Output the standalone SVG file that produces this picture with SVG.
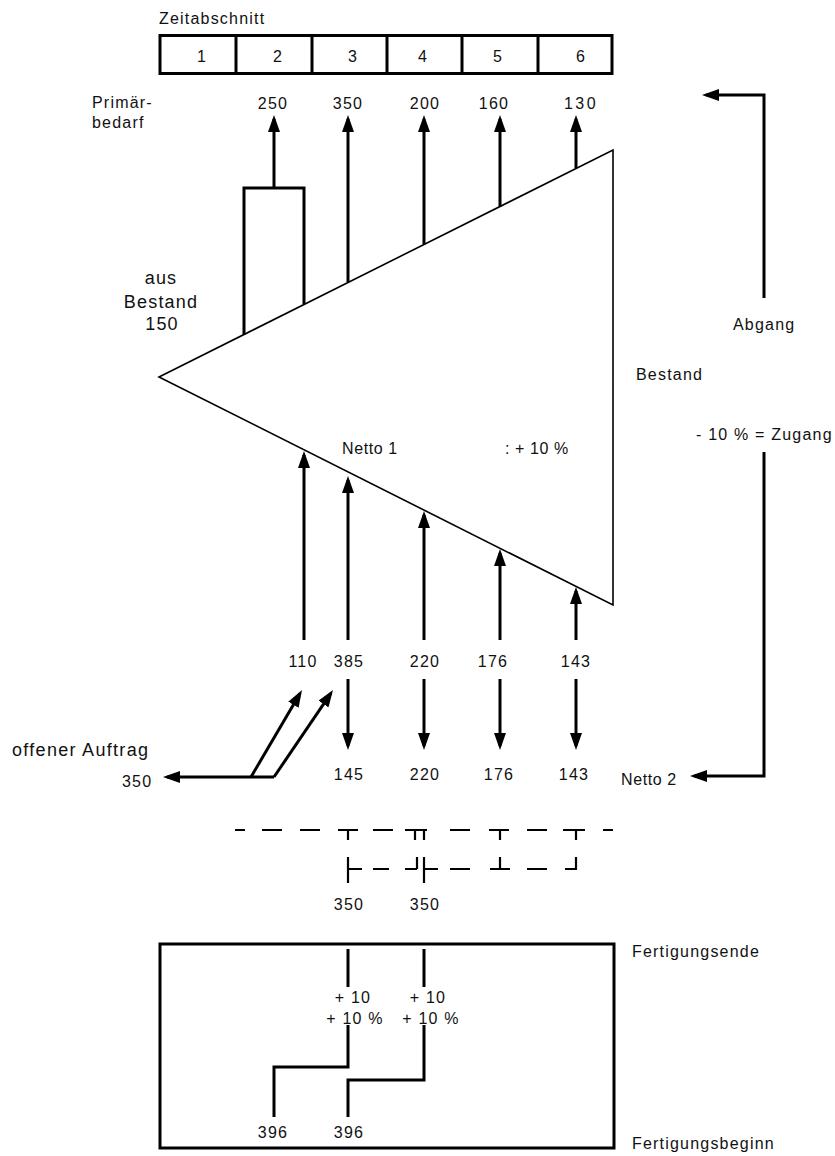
<svg xmlns="http://www.w3.org/2000/svg" width="835" height="1156" viewBox="0 0 835 1156">
<style>
text{font-family:"Liberation Sans",Arial,sans-serif;font-size:16px;letter-spacing:1.2px;fill:#111}
.m{text-anchor:middle}
.big{font-size:18px;letter-spacing:1.2px}
.med{font-size:18px;letter-spacing:1.3px}
.n{letter-spacing:0.6px}
.thick{stroke:#000;stroke-width:3;fill:none}
.thin{stroke:#000;stroke-width:1.6;fill:none}
.dash{stroke:#000;stroke-width:2.2;fill:none}
</style>
<defs>
<marker id="ah" markerUnits="userSpaceOnUse" markerWidth="18" markerHeight="12" refX="13" refY="6" orient="auto">
<path d="M0,0 L17,6 L0,12 z" fill="#000"/>
</marker>
</defs>
<rect width="835" height="1156" fill="#fff"/>

<g id="zeitabschnitt">
<text x="159" y="24">Zeitabschnitt</text>
<rect x="160" y="35.5" width="452" height="38" class="thick"/>
<path d="M236,35.5V73.5M312,35.5V73.5M387,35.5V73.5M462,35.5V73.5M538,35.5V73.5" class="thick"/>
<text class="m" x="202" y="62">1</text>
<text class="m" x="278" y="62">2</text>
<text class="m" x="353" y="62">3</text>
<text class="m" x="423" y="62">4</text>
<text class="m" x="498" y="62">5</text>
<text class="m" x="581" y="62">6</text>
</g>

<g id="primaerbedarf">
<text x="92" y="108">Primär-</text>
<text x="92" y="128">bedarf</text>
<text class="m" x="273" y="109">250</text>
<text class="m" x="348" y="109">350</text>
<text class="m" x="425" y="109">200</text>
<text class="m" x="494" y="109">160</text>
<text class="m" x="581" y="109" style="letter-spacing:2.4px">130</text>
</g>

<g id="bestand">
<polygon points="159,377 613,150 613,605" class="thin"/>
<text class="m big" x="161" y="284">aus</text>
<text class="m big" x="161" y="308">Bestand</text>
<text class="m big" x="162" y="330">150</text>
<text x="636" y="380">Bestand</text>
<text class="n" x="342" y="454">Netto 1</text>
<text class="n" x="505" y="454">: + 10 %</text>
</g>

<g id="rechts">
<text x="733" y="330">Abgang</text>
<text x="696" y="440">- 10 % = Zugang</text>
<text class="n" x="621" y="785">Netto 2</text>
</g>

<g id="netto-werte">
<text class="m" x="303" y="667">110</text>
<text class="m" x="349" y="667">385</text>
<text class="m" x="425" y="667">220</text>
<text class="m" x="493" y="667">176</text>
<text class="m" x="576" y="667">143</text>
<text class="m" x="349" y="780">145</text>
<text class="m" x="425" y="780">220</text>
<text class="m" x="499" y="780">176</text>
<text class="m" x="574" y="780">143</text>
</g>

<g id="offener-auftrag">
<text class="med" x="12" y="756">offener Auftrag</text>
<text x="122" y="787">350</text>
</g>

<g id="fertigung">
<rect x="160" y="944" width="454" height="204" class="thick"/>
<text x="632" y="957">Fertigungsende</text>
<text x="632" y="1149">Fertigungsbeginn</text>
<text class="m" x="353" y="1003">+ 10</text>
<text class="m" x="355" y="1024">+ 10 %</text>
<text class="m" x="428" y="1003">+ 10</text>
<text class="m" x="431" y="1024">+ 10 %</text>
<text class="m" x="273" y="1138">396</text>
<text class="m" x="349" y="1138">396</text>
<text class="m" x="349" y="910">350</text>
<text class="m" x="425" y="910">350</text>
</g>

<g id="connectors">
<path d="M244,334.5V188H304V304.5" class="thick"/>
<path d="M274,188V119" class="thick" marker-end="url(#ah)"/>
<path d="M348,282.5V119" class="thick" marker-end="url(#ah)"/>
<path d="M424,244.5V119" class="thick" marker-end="url(#ah)"/>
<path d="M500,206.5V119" class="thick" marker-end="url(#ah)"/>
<path d="M576,168.5V119" class="thick" marker-end="url(#ah)"/>
<path d="M304,640V455" class="thick" marker-end="url(#ah)"/>
<path d="M348,640V480" class="thick" marker-end="url(#ah)"/>
<path d="M424,640V515" class="thick" marker-end="url(#ah)"/>
<path d="M500,640V553" class="thick" marker-end="url(#ah)"/>
<path d="M576,640V591" class="thick" marker-end="url(#ah)"/>
<path d="M348,679V746" class="thick" marker-end="url(#ah)"/>
<path d="M424,679V746" class="thick" marker-end="url(#ah)"/>
<path d="M500,679V746" class="thick" marker-end="url(#ah)"/>
<path d="M576,679V746" class="thick" marker-end="url(#ah)"/>
<path d="M251,777L300,693.5" class="thick" marker-end="url(#ah)"/>
<path d="M274,777L330.8,693.3" class="thick" marker-end="url(#ah)"/>
<path d="M274,777H167" class="thick" marker-end="url(#ah)"/>
<path d="M764,298V95H706" class="thick" marker-end="url(#ah)"/>
<path d="M764,452V776H694" class="thick" marker-end="url(#ah)"/>
<g class="dash">
<path d="M235,830H245M262,830H282M300,830H320M338,830H358M373,830H393M405,830H427M450,830H470M489,830H509M527,830H547M563,830H585M603,830H613"/>
<path d="M348,830V840M415,830V840M424,830V840M500,830V840M576,830V840"/>
<path d="M348,869H362M373,869H389M405,869H417M424,869H438M450,869H470M490,869H510M527,869H547M565,869H577"/>
<path d="M348,857V883M417,857V869M424,857V883M500,857V869M576,857V869"/>
</g>
<path d="M348,949V987M424,949V987" class="thick"/>
<path d="M348,1025V1067H274V1117" class="thick"/>
<path d="M424,1025V1080H348V1117" class="thick"/>
</g>
</svg>
